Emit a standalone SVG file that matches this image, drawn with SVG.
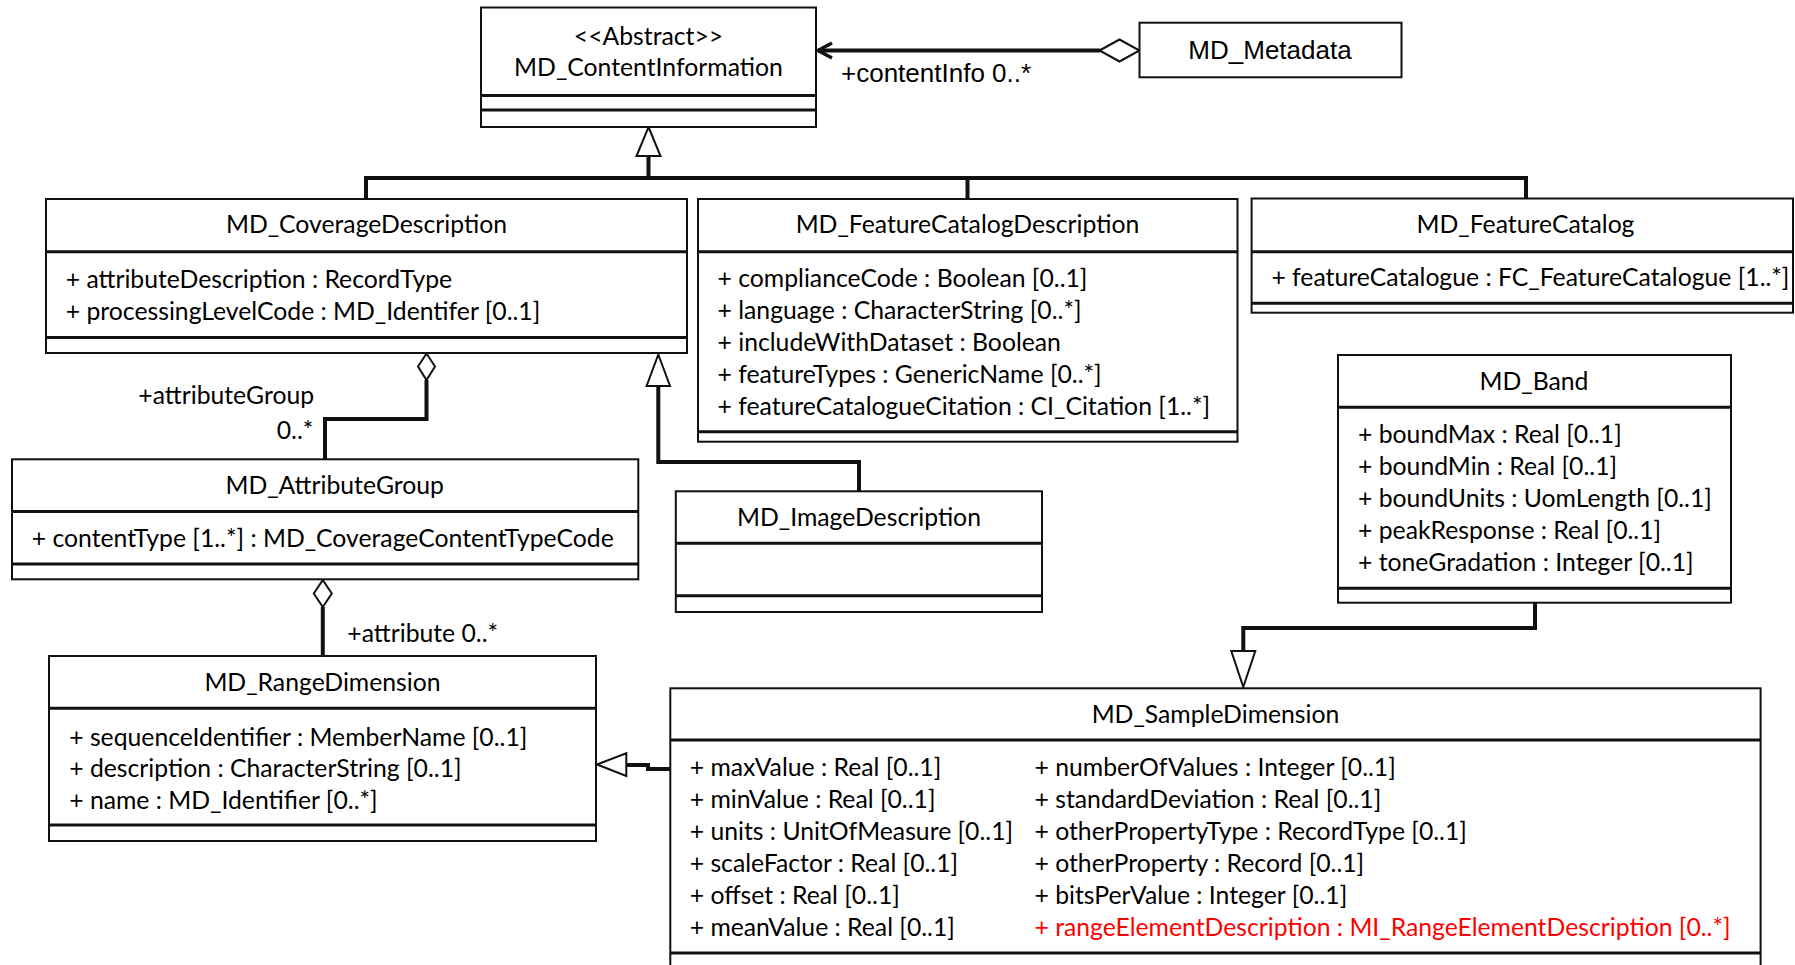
<svg xmlns="http://www.w3.org/2000/svg" width="1795" height="965" viewBox="0 0 1795 965">
<style>
.box{fill:#fff;stroke:#111;stroke-width:2}
.sep{stroke:#111;stroke-width:3}
.t{font-family:Lato,"Open Sans","Liberation Sans",sans-serif;font-size:24.75px;fill:#000}
.m{text-anchor:middle}
.a{font-family:"Liberation Sans",Arial,sans-serif;font-size:26px;fill:#000}
.red{fill:#ff0000}
.conn{fill:none;stroke:#111;stroke-width:4}
.head{fill:#fff;stroke:#111;stroke-width:2}
</style>
<rect width="1795" height="965" fill="#fff"/>

<g id="connectors">
  <!-- Metadata aggregation to ContentInformation -->
  <line class="conn" x1="1100" y1="50.5" x2="818" y2="50.5"/>
  <polyline fill="none" stroke="#111" stroke-width="3.5" points="832,43 818,50.5 832,58"/>
  <polygon class="head" points="1099.5,50.5 1119.5,39.5 1139.5,50.5 1119.5,61.5"/>
  <!-- generalization tree to ContentInformation -->
  <path class="conn" d="M648.5,156 V178 M366,178 H1526 M366,176 V199 M967.5,176 V199 M1526,176 V199"/>
  <polygon class="head" points="648.5,127 660.5,156 636.5,156"/>
  <!-- Coverage to AttributeGroup aggregation -->
  <path class="conn" d="M426.5,380 V419 H325 V459"/>
  <polygon class="head" points="426.5,353.5 435,366.5 426.5,380 418,366.5"/>
  <!-- AttributeGroup to RangeDimension aggregation -->
  <path class="conn" d="M322.8,607 V656"/>
  <polygon class="head" points="322.8,580 331.8,593.5 322.8,607 313.8,593.5"/>
  <!-- ImageDescription generalization to Coverage -->
  <path class="conn" d="M658.3,386 V462 H859 V491"/>
  <polygon class="head" points="658.3,354.5 670,386 646.6,386"/>
  <!-- MD_Band generalization to SampleDimension -->
  <path class="conn" d="M1535,603 V628 H1243.3 V651"/>
  <polygon class="head" points="1243.3,687 1255.3,651 1231.3,651"/>
  <!-- SampleDimension generalization to RangeDimension -->
  <path class="conn" d="M670,769 H648 V765 H626"/>
  <polygon class="head" points="597,764.5 626.3,753.3 626.3,776"/>
</g>

<g id="MD_ContentInformation">
  <rect class="box" x="481" y="7.5" width="335" height="119.5"/>
  <line class="sep" x1="481" y1="95.5" x2="816" y2="95.5"/>
  <line class="sep" x1="481" y1="110" x2="816" y2="110"/>
  <text class="t m" x="648.5" y="44.5">&lt;&lt;Abstract&gt;&gt;</text>
  <text class="t m" x="648.5" y="76">MD_ContentInformation</text>
</g>

<g id="MD_Metadata">
  <rect class="box" x="1139.5" y="22.7" width="262" height="54.6"/>
  <text class="a m" x="1270" y="59">MD_Metadata</text>
</g>
<text class="a" x="841" y="82">+contentInfo 0..*</text>

<g id="MD_CoverageDescription">
  <rect class="box" x="46" y="199" width="641" height="154"/>
  <line class="sep" x1="46" y1="251.7" x2="687" y2="251.7"/>
  <line class="sep" x1="46" y1="337.5" x2="687" y2="337.5"/>
  <text class="t m" x="366.5" y="233.3">MD_CoverageDescription</text>
  <text class="t" x="65.7" y="288.3">+ attributeDescription : RecordType</text>
  <text class="t" x="65.7" y="320">+ processingLevelCode : MD_Identifer [0..1]</text>
</g>

<g id="MD_FeatureCatalogDescription">
  <rect class="box" x="698" y="199" width="539.5" height="242.7"/>
  <line class="sep" x1="698" y1="251.7" x2="1237.5" y2="251.7"/>
  <line class="sep" x1="698" y1="431.7" x2="1237.5" y2="431.7"/>
  <text class="t m" x="967.5" y="233.3">MD_FeatureCatalogDescription</text>
  <text class="t" x="717.5" y="286.7">+ complianceCode : Boolean [0..1]</text>
  <text class="t" x="717.5" y="318.7">+ language : CharacterString [0..*]</text>
  <text class="t" x="717.5" y="350.7">+ includeWithDataset : Boolean</text>
  <text class="t" x="717.5" y="382.7">+ featureTypes : GenericName [0..*]</text>
  <text class="t" x="717.5" y="414.7">+ featureCatalogueCitation : CI_Citation [1..*]</text>
</g>

<g id="MD_FeatureCatalog">
  <rect class="box" x="1251.6" y="198.5" width="541.4" height="114.2"/>
  <line class="sep" x1="1251.6" y1="251.7" x2="1793" y2="251.7"/>
  <line class="sep" x1="1251.6" y1="303.3" x2="1793" y2="303.3"/>
  <text class="t m" x="1525.5" y="233.3">MD_FeatureCatalog</text>
  <text class="t" x="1271.4" y="286">+ featureCatalogue : FC_FeatureCatalogue [1..*]</text>
</g>

<g id="MD_Band">
  <rect class="box" x="1338" y="355" width="393" height="247.7"/>
  <line class="sep" x1="1338" y1="407.3" x2="1731" y2="407.3"/>
  <line class="sep" x1="1338" y1="588.3" x2="1731" y2="588.3"/>
  <text class="t m" x="1534" y="390">MD_Band</text>
  <text class="t" x="1358" y="442.8">+ boundMax : Real [0..1]</text>
  <text class="t" x="1358" y="474.9">+ boundMin : Real [0..1]</text>
  <text class="t" x="1358" y="507">+ boundUnits : UomLength [0..1]</text>
  <text class="t" x="1358" y="539.1">+ peakResponse : Real [0..1]</text>
  <text class="t" x="1358" y="571.2">+ toneGradation : Integer [0..1]</text>
</g>

<g id="MD_AttributeGroup">
  <rect class="box" x="12" y="459.3" width="626.3" height="120"/>
  <line class="sep" x1="12" y1="511.5" x2="638.3" y2="511.5"/>
  <line class="sep" x1="12" y1="564" x2="638.3" y2="564"/>
  <text class="t m" x="334.7" y="493.5">MD_AttributeGroup</text>
  <text class="t" x="31.7" y="547">+ contentType [1..*] : MD_CoverageContentTypeCode</text>
</g>
<text class="t" x="138.3" y="403.5">+attributeGroup</text>
<text class="t" x="313.3" y="439.3" text-anchor="end">0..*</text>
<text class="t" x="347.3" y="641.7">+attribute 0..*</text>

<g id="MD_ImageDescription">
  <rect class="box" x="675.8" y="491.3" width="366.2" height="120.7"/>
  <line class="sep" x1="675.8" y1="543.3" x2="1042" y2="543.3"/>
  <line class="sep" x1="675.8" y1="595.7" x2="1042" y2="595.7"/>
  <text class="t m" x="859" y="526">MD_ImageDescription</text>
</g>

<g id="MD_RangeDimension">
  <rect class="box" x="49" y="656" width="547" height="185"/>
  <line class="sep" x1="49" y1="708.3" x2="596" y2="708.3"/>
  <line class="sep" x1="49" y1="825" x2="596" y2="825"/>
  <text class="t m" x="322.5" y="690.7">MD_RangeDimension</text>
  <text class="t" x="69.2" y="745.5">+ sequenceIdentifier : MemberName [0..1]</text>
  <text class="t" x="69.2" y="777.3">+ description : CharacterString [0..1]</text>
  <text class="t" x="69.2" y="809">+ name : MD_Identifier [0..*]</text>
</g>

<g id="MD_SampleDimension">
  <rect class="box" x="670.3" y="688.3" width="1090.3" height="290"/>
  <line class="sep" x1="670.3" y1="740" x2="1760.6" y2="740"/>
  <line class="sep" x1="670.3" y1="953" x2="1760.6" y2="953"/>
  <text class="t m" x="1215.5" y="723.3">MD_SampleDimension</text>
  <text class="t" x="689.7" y="775.5">+ maxValue : Real [0..1]</text>
  <text class="t" x="689.7" y="807.5">+ minValue : Real [0..1]</text>
  <text class="t" x="689.7" y="839.5">+ units : UnitOfMeasure [0..1]</text>
  <text class="t" x="689.7" y="871.5">+ scaleFactor : Real [0..1]</text>
  <text class="t" x="689.7" y="903.5">+ offset : Real [0..1]</text>
  <text class="t" x="689.7" y="935.5">+ meanValue : Real [0..1]</text>
  <text class="t" x="1034.5" y="775.5">+ numberOfValues : Integer [0..1]</text>
  <text class="t" x="1034.5" y="807.5">+ standardDeviation : Real [0..1]</text>
  <text class="t" x="1034.5" y="839.5">+ otherPropertyType : RecordType [0..1]</text>
  <text class="t" x="1034.5" y="871.5">+ otherProperty : Record [0..1]</text>
  <text class="t" x="1034.5" y="903.5">+ bitsPerValue : Integer [0..1]</text>
  <text class="t red" x="1034.5" y="935.5">+ rangeElementDescription : MI_RangeElementDescription [0..*]</text>
</g>
</svg>
